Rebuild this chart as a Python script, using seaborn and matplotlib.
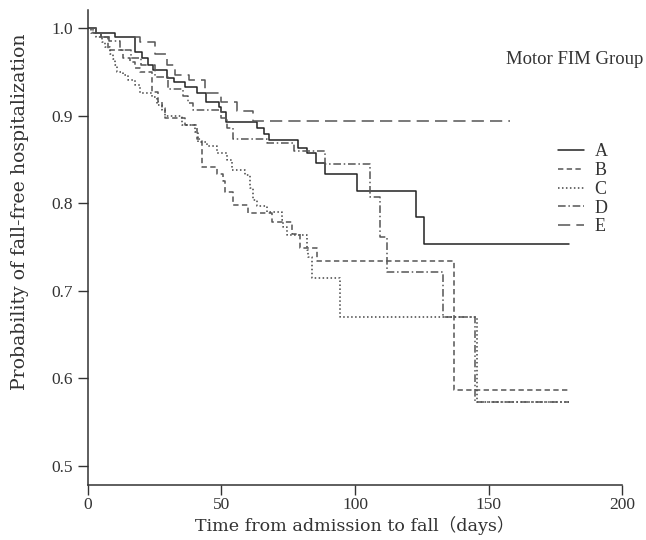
import matplotlib
matplotlib.use("Agg")
import matplotlib.pyplot as plt
import seaborn as sns
import pandas as pd
from matplotlib.lines import Line2D

groups = ["A", "B", "C", "D", "E"]

A_t = [0, 3, 10, 17.6, 20.2, 22.5, 24.5, 29.6, 32.2, 36.3, 40.8, 44.2, 49, 50, 51.7, 63.3, 65.9, 67.8, 78.7, 82, 85.4, 88.8, 100.7, 122.8, 125.8, 180]
A_s = [1.0, 0.994, 0.99, 0.973, 0.966, 0.958, 0.952, 0.943, 0.938, 0.933, 0.926, 0.916, 0.910, 0.904, 0.893, 0.886, 0.879, 0.872, 0.863, 0.857, 0.846, 0.833, 0.814, 0.784, 0.753, 0.753]

B_t = [0, 2, 5, 7.5, 13, 15.7, 17.6, 19.5, 24, 26.2, 27.7, 28.8, 36.3, 40.8, 42.7, 48.3, 50.6, 51.3, 54.3, 60, 69, 76.5, 79.4, 85.8, 137, 180]
B_s = [1.0, 0.995, 0.99, 0.975, 0.966, 0.961, 0.955, 0.95, 0.927, 0.916, 0.909, 0.897, 0.889, 0.874, 0.841, 0.834, 0.826, 0.813, 0.798, 0.789, 0.779, 0.765, 0.749, 0.734, 0.587, 0.587]

C_t = [0, 1, 3, 5.2, 6.4, 8.2, 9.4, 10, 10.9, 13.1, 15, 17.6, 19.5, 24, 25.8, 27.7, 28.8, 35.4, 40, 41.2, 44.6, 48.3, 52, 53.9, 58.8, 60.7, 61.8, 63.3, 67, 72.7, 73, 74.5, 82, 82.4, 84, 94.4, 145.7, 180]
C_s = [1.0, 0.995, 0.99, 0.984, 0.978, 0.970, 0.965, 0.958, 0.950, 0.946, 0.941, 0.935, 0.926, 0.921, 0.912, 0.906, 0.900, 0.889, 0.881, 0.870, 0.866, 0.858, 0.849, 0.838, 0.832, 0.818, 0.804, 0.797, 0.790, 0.781, 0.773, 0.764, 0.747, 0.739, 0.715, 0.670, 0.573, 0.573]

D_t = [0, 2, 5, 8, 12, 16, 20, 25, 30, 35.6, 37.5, 39.5, 50, 52, 54.3, 67, 77, 88.8, 105.6, 109.4, 112, 133, 145, 180]
D_s = [1.0, 0.995, 0.99, 0.985, 0.975, 0.966, 0.958, 0.944, 0.930, 0.922, 0.914, 0.906, 0.897, 0.886, 0.874, 0.869, 0.860, 0.845, 0.807, 0.761, 0.721, 0.670, 0.573, 0.573]

E_t = [0, 3, 5, 19.5, 25, 29.6, 32.6, 38, 44, 50, 56, 62, 158]
E_s = [1.0, 0.995, 0.99, 0.984, 0.971, 0.958, 0.946, 0.941, 0.926, 0.916, 0.905, 0.894, 0.894]

x_ticks = [0, 50, 100, 150, 200]
y_ticks = [0.5, 0.6, 0.7, 0.8, 0.9, 1.0]

series = {"A": (A_t, A_s), "B": (B_t, B_s), "C": (C_t, C_s), "D": (D_t, D_s), "E": (E_t, E_s)}
frames = []
for g in groups:
    t, s = series[g]
    frames.append(pd.DataFrame({"time": t, "surv": s, "group": g}))
df = pd.concat(frames, ignore_index=True)

sns.set_theme(style="ticks")
plt.rcParams["font.family"] = ["Liberation Serif", "Noto Sans CJK JP", "DejaVu Sans"]

fig = plt.figure(figsize=(6.46, 5.40), dpi=100)
ax = fig.add_axes([0.136, 0.102, 0.827, 0.879])

colors = {"A": "#222222", "B": "#555555", "C": "#444444", "D": "#555555", "E": "#555555"}
dashes = {"A": "", "B": (3.5, 2.2), "C": (1, 1.6), "D": (5, 1.8, 1, 1.8), "E": (8, 4)}

sns.lineplot(data=df, x="time", y="surv", hue="group", style="group",
             palette=colors, dashes=dashes, estimator=None, sort=False,
             drawstyle="steps-post", linewidth=1.1, ax=ax, legend=False)

ax.set_xlim(0, 200)
ax.set_ylim(0.4783, 1.0205)
ax.set_xticks(x_ticks)
ax.set_yticks(y_ticks)
ax.set_xticklabels([str(v) for v in x_ticks])
ax.set_yticklabels([f"{v:.1f}" for v in y_ticks])
ax.tick_params(labelsize=12.5, colors="#333333", length=7, width=1)
ax.tick_params(axis="x", pad=2)
for sp in ["top", "right"]:
    ax.spines[sp].set_visible(False)
for sp in ["left", "bottom"]:
    ax.spines[sp].set_color("#333333")
    ax.spines[sp].set_linewidth(1.1)

lab_font = ["DejaVu Serif", "Noto Sans CJK JP", "DejaVu Sans"]
ax.set_xlabel("Time from admission to fall（days）", fontsize=12.6, color="#333333",
              family=lab_font)
ax.xaxis.set_label_coords(0.5, -0.066)
ax.set_ylabel("Probability of fall-free hospitalization", fontsize=13.6, color="#333333",
              family=lab_font)
ax.yaxis.set_label_coords(-0.11, 0.575)

fig.text(506 / 646, 1 - 60 / 540, "Motor FIM Group", fontsize=13.5, color="#333333",
         ha="left", va="center")

handles = [Line2D([0], [0], color=colors[g], lw=1.1,
                  linestyle="-" if g == "A" else (0, dashes[g])) for g in groups]
leg = ax.legend(handles, groups, frameon=False,
                loc="upper left", bbox_to_anchor=(0.867, 0.735),
                fontsize=13, handlelength=1.4,
                labelspacing=0.1, handletextpad=0.6, borderaxespad=0)
for t in leg.get_texts():
    t.set_color("#333333")

fig.savefig("out.png", dpi=100)
